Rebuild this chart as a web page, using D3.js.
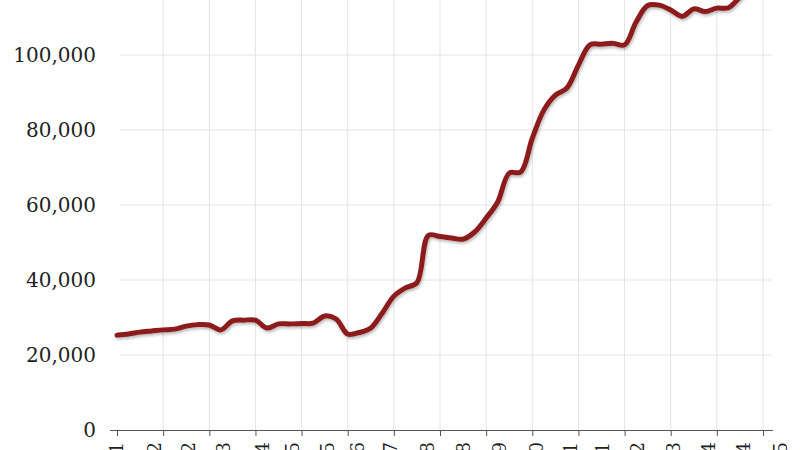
<!DOCTYPE html>
<html>
<head>
<meta charset="utf-8">
<script src="https://cdn.jsdelivr.net/npm/d3@7/dist/d3.min.js"></script>
<style>
  html, body { margin: 0; padding: 0; background: #fff; }
  svg { display: block; }
</style>
</head>
<body>
<svg id="chart" width="800" height="450"></svg>
<script>
// ---- data ----
const quarters = [
  "2001Q1","2001Q2","2001Q3","2001Q4","2002Q1","2002Q2","2002Q3","2002Q4",
  "2003Q1","2003Q2","2003Q3","2003Q4","2004Q1","2004Q2","2004Q3","2004Q4",
  "2005Q1","2005Q2","2005Q3","2005Q4","2006Q1","2006Q2","2006Q3","2006Q4",
  "2007Q1","2007Q2","2007Q3","2007Q4","2008Q1","2008Q2","2008Q3","2008Q4",
  "2009Q1","2009Q2","2009Q3","2009Q4","2010Q1","2010Q2","2010Q3","2010Q4",
  "2011Q1","2011Q2","2011Q3","2011Q4","2012Q1","2012Q2","2012Q3","2012Q4",
  "2013Q1","2013Q2","2013Q3","2013Q4","2014Q1","2014Q2","2014Q3","2014Q4",
  "2015Q1"
];
const values = [
  25300, 25600, 26100, 26400, 26700, 26900, 27700, 28100,
  28000, 26700, 29100, 29300, 29300, 27200, 28300, 28300,
  28400, 28500, 30400, 29600, 25600, 26000, 27200, 31200,
  35700, 37900, 39300, 51900, 51600, 51200, 50900, 52800,
  56500, 60800, 68500, 68800, 77800, 85300, 89300, 91200,
  97300, 102700, 102900, 103100, 102700, 108800, 113200, 113300,
  112000, 110300, 112300, 111600, 112500, 112600, 115500, 118700,
  121300
];
const xTickYears = [2001,2002,2003,2004,2005,2006,2007,2008,2009,2010,2011,2012,2013,2014,2015];
const xLabelYears = [2001.0,2001.82,2002.54,2003.30,2004.16,2004.81,2005.57,2006.22,2006.92,2007.74,
                     2008.50,2009.30,2010.10,2010.82,2011.53,2012.29,2013.05,2013.81,2014.57,2015.37];
const xLabelText = ["2001","2002","2002","2003","2004","2005","2005","2006","2007","2008",
                    "2008","2009","2010","2011","2011","2012","2013","2014","2014","2015"];
const yTicks = [0, 20000, 40000, 60000, 80000, 100000];
const yTop = 120000;

// ---- build ----
const toYear = q => +q.slice(0,4) + (+q.slice(5) - 1) / 4;
const data = quarters.map((q, i) => ({ t: toYear(q), v: values[i] }));

const svg = d3.select("#chart");
const x = d3.scaleLinear().domain([2001, 2015]).range([117, 763]);
const y = d3.scaleLinear().domain([0, yTop]).range([430, -20]);

const defs = svg.append("defs");
const f = defs.append("filter").attr("id", "shadow")
  .attr("x", "-10%").attr("y", "-10%").attr("width", "120%").attr("height", "120%");
f.append("feDropShadow").attr("dx", 1).attr("dy", 2).attr("stdDeviation", 1.5)
  .attr("flood-color", "#000").attr("flood-opacity", 0.28);

// horizontal grid
svg.append("g").selectAll("line")
  .data(yTicks.filter(d => d > 0))
  .join("line")
  .attr("x1", 120).attr("x2", 772)
  .attr("y1", d => y(d)).attr("y2", d => y(d))
  .attr("stroke", "#e4e4e4").attr("stroke-width", 1);

// vertical grid
svg.append("g").selectAll("line")
  .data(xTickYears.slice(1))
  .join("line")
  .attr("x1", d => x(d)).attr("x2", d => x(d))
  .attr("y1", y(0)).attr("y2", y(yTop))
  .attr("stroke", "#e4e4e4").attr("stroke-width", 1);

// y labels
svg.append("g").selectAll("text")
  .data(yTicks)
  .join("text")
  .attr("x", 96).attr("y", d => y(d)).attr("dy", "0.36em")
  .attr("text-anchor", "end")
  .attr("font-family", "'DejaVu Serif', serif")
  .attr("font-size", 20)
  .attr("fill", "#222")
  .text(d => d3.format(",")(d));

// x axis line + ticks
const xAxis = svg.append("g").attr("transform", `translate(0,${y(0)})`)
  .call(d3.axisBottom(x).tickValues(xTickYears).tickFormat("").tickSize(6).tickSizeOuter(0));
xAxis.select(".domain").attr("d", `M110,0.5H773`).attr("stroke", "#555");
xAxis.selectAll(".tick line").attr("stroke", "#555");

// x labels (rotated, cut off by bottom edge as in reference)
svg.append("g").selectAll("text")
  .data(xLabelYears)
  .join("text")
  .attr("transform", d => `translate(${x(d)},442) rotate(-90)`)
  .attr("dy", "0.36em")
  .attr("text-anchor", "end")
  .attr("font-family", "'DejaVu Serif', serif")
  .attr("font-size", 18)
  .attr("fill", "#222")
  .text((d, i) => xLabelText[i]);

// line
const line = d3.line().x(d => x(d.t)).y(d => y(d.v)).curve(d3.curveCatmullRom.alpha(0.5));
svg.append("path")
  .datum(data)
  .attr("d", line)
  .attr("fill", "none")
  .attr("stroke", "#8c1b1f")
  .attr("stroke-width", 5)
  .attr("stroke-linejoin", "round")
  .attr("stroke-linecap", "round")
  .attr("filter", "url(#shadow)");
</script>
</body>
</html>
